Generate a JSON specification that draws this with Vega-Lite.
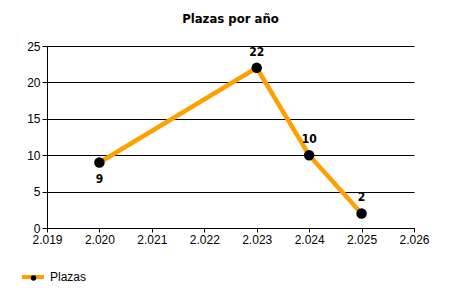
{
  "$schema": "https://vega.github.io/schema/vega-lite/v6.json",
  "autosize": {"type": "none"},
  "width": 367,
  "height": 182,
  "padding": {"left": 47, "top": 46, "right": 36, "bottom": 72},
  "background": "white",
  "title": {
    "text": "Plazas por año",
    "font": "DejaVu Sans Condensed",
    "fontSize": 13,
    "fontWeight": "bold",
    "color": "black",
    "anchor": "middle",
    "baseline": "bottom",
    "offset": 1
  },
  "config": {
    "view": {"stroke": null},
    "font": "Liberation Sans"
  },
  "data": {
    "values": [
      {"year": 2020, "plazas": 9, "serie": "Plazas", "dot": "dot"},
      {"year": 2023, "plazas": 22, "serie": "Plazas", "dot": "dot"},
      {"year": 2024, "plazas": 10, "serie": "Plazas", "dot": "dot"},
      {"year": 2025, "plazas": 2, "serie": "Plazas", "dot": "dot"}
    ]
  },
  "encoding": {
    "x": {
      "field": "year",
      "type": "quantitative",
      "scale": {"domain": [2019, 2026], "nice": false, "zero": false},
      "axis": {
        "title": null,
        "values": [2019, 2020, 2021, 2022, 2023, 2024, 2025, 2026],
        "labelExpr": "replace(format(datum.value, ','), ',', '.')",
        "grid": false,
        "domainColor": "black",
        "tickColor": "black",
        "tickSize": 4,
        "labelPadding": 2,
        "labelFont": "Liberation Sans",
        "labelFontSize": 12,
        "labelColor": "black",
        "labelFlush": false,
        "labelOverlap": false
      }
    },
    "y": {
      "field": "plazas",
      "type": "quantitative",
      "scale": {"domain": [0, 25], "nice": false},
      "axis": {
        "title": null,
        "values": [0, 5, 10, 15, 20, 25],
        "grid": true,
        "gridColor": "black",
        "gridOpacity": 1,
        "gridWidth": 1,
        "domainColor": "black",
        "tickColor": "black",
        "tickSize": 5,
        "labelPadding": 2,
        "labelFont": "Liberation Sans",
        "labelFontSize": 12,
        "labelColor": "black",
        "labelFlush": false,
        "labelOverlap": false
      }
    }
  },
  "layer": [
    {
      "mark": {"type": "line", "strokeWidth": 4.5},
      "encoding": {
        "stroke": {
          "field": "serie",
          "type": "nominal",
          "scale": {"range": ["#FFA000"]},
          "legend": {
            "title": null,
            "orient": "none",
            "legendX": -27,
            "legendY": 218,
            "symbolType": "stroke",
            "symbolSize": 484,
            "symbolStrokeWidth": 4,
            "labelFont": "Liberation Sans",
            "labelFontSize": 12,
            "labelColor": "black",
            "labelOffset": 4
          }
        }
      }
    },
    {
      "mark": {"type": "point", "filled": true, "size": 110, "opacity": 1},
      "encoding": {
        "fill": {
          "field": "dot",
          "type": "nominal",
          "scale": {"range": ["black"]},
          "legend": {
            "title": null,
            "orient": "none",
            "legendX": -19.5,
            "legendY": 226,
            "symbolType": "circle",
            "symbolSize": 30,
            "symbolStrokeWidth": 0,
            "symbolOpacity": 1,
            "labelExpr": "''",
            "labelFontSize": 12
          }
        }
      }
    },
    {
      "transform": [{"filter": "datum.year != 2020"}],
      "mark": {"type": "text", "dy": -16, "font": "DejaVu Sans Condensed", "fontWeight": "bold", "fontSize": 12, "color": "black"},
      "encoding": {"text": {"field": "plazas", "type": "quantitative"}}
    },
    {
      "transform": [{"filter": "datum.year == 2020"}],
      "mark": {"type": "text", "dy": 17, "font": "DejaVu Sans Condensed", "fontWeight": "bold", "fontSize": 12, "color": "black"},
      "encoding": {"text": {"field": "plazas", "type": "quantitative"}}
    }
  ]
}
